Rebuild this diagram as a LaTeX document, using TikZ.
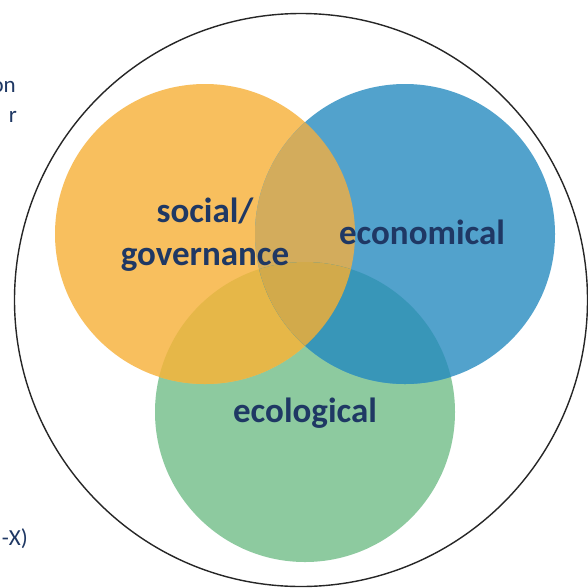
\documentclass[tikz,border=0pt]{standalone}
\usepackage{fontspec}
\setmainfont{Carlito}
\definecolor{cO}{HTML}{F8BF5E}
\definecolor{cB}{HTML}{52A2CC}
\definecolor{cG}{HTML}{8DCA9F}
\definecolor{cOB}{HTML}{D3AC5C}
\definecolor{cOG}{HTML}{E6B748}
\definecolor{cBG}{HTML}{3896B8}
\definecolor{cOBG}{HTML}{D2AA4B}
\definecolor{navy}{HTML}{1F3864}
\tikzset{
  biglabel/.style={font=\fontsize{35}{43}\selectfont\bfseries, text=navy, align=center, inner sep=0pt},
  sidetext/.style={font=\fontsize{23}{27}\selectfont, text=navy, inner sep=0pt, anchor=base east}
}
\begin{document}
\begin{tikzpicture}[x=1pt,y=-1pt]
\useasboundingbox (0,0) rectangle (588,587);
\clip (0,0) rectangle (588,587);
\fill[white] (0,0) rectangle (588,587);
% outer circle
\draw[line width=1.4pt, black!85] (301,300) circle[radius=286.5];
% three circles
\coordinate (o) at (205,234);
\coordinate (b) at (405,234);
\coordinate (g) at (305,412);
\fill[cG] (g) circle[radius=150];
\fill[cO] (o) circle[radius=150];
\fill[cB] (b) circle[radius=150];
\begin{scope}
  \clip (o) circle[radius=150];
  \fill[cOB] (b) circle[radius=150];
  \fill[cOG] (g) circle[radius=150];
  \clip (b) circle[radius=150];
  \fill[cOBG] (g) circle[radius=150];
\end{scope}
\begin{scope}
  \clip (b) circle[radius=150];
  \clip (g) circle[radius=150];
  \fill[cBG] (b) circle[radius=150];
  \clip (o) circle[radius=150];
  \fill[cOBG] (g) circle[radius=150];
\end{scope}
% labels
\node[biglabel] (soc) at (205,235) {social/\\governance};
\node[biglabel] (eco) at (422,232) {economical};
\node[biglabel] (ecl) at (305,413) {ecological};
% cut-off side text
\node[sidetext] (t1) at (16,92) {on};
\node[sidetext] (t2) at (17,122) {r};
\node[sidetext] (t3) at (28,545) {-X)};
\end{tikzpicture}
\end{document}
